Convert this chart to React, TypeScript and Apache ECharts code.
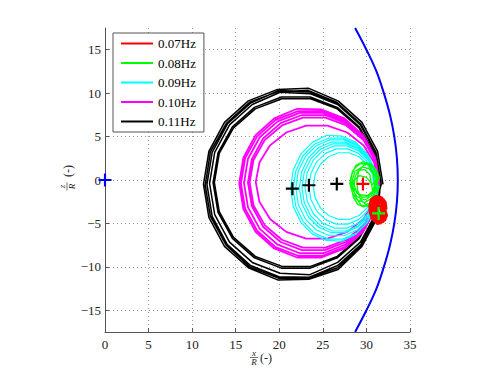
import React, { useEffect, useRef } from "react";
import * as echarts from "echarts";

const FONT = "'Liberation Serif', 'Times New Roman', serif";

const xTicks = [0, 5, 10, 15, 20, 25, 30, 35];
const yTicks = [-15, -10, -5, 0, 5, 10, 15];
const legendNames = ["0.07Hz", "0.08Hz", "0.09Hz", "0.10Hz", "0.11Hz"];
const legendColors = ["#ff0000", "#00ff00", "#00ffff", "#ff00ff", "#000000"];

// blue boundary curve
const wallCurve = [
  [28.7, 17.5], [30.0, 15], [31.15, 12.5], [32.0, 10], [32.7, 7.5], [33.2, 5], [33.5, 2.5], [33.6, 0],
  [33.5, -2.5], [33.2, -5], [32.7, -7.5], [32.0, -10], [31.15, -12.5], [30.0, -15], [28.7, -17.5],
];

// 0.11Hz trajectory (black), successive laps
const path011 = [
  [31.9, -0.5], [31.28, 3.3], [29.49, 6.64], [26.75, 9.11], [23.39, 10.55], [19.81, 10.43], [16.45, 9.11], [13.71, 6.64], [11.92, 3.3],
  [11.3, -0.5], [11.92, -4.3], [13.71, -7.64], [16.45, -10.11], [19.81, -11.5], [23.39, -11.43], [26.75, -10.3], [29.49, -7.64], [31.28, -4.3],
  [31.6, -0.4], [31.01, 3.19], [29.31, 6.35], [26.7, 8.69], [23.51, 9.94], [20.09, 10.1], [16.9, 8.69], [14.29, 6.35], [12.59, 3.19],
  [12.0, -0.4], [12.59, -3.99], [14.29, -7.15], [16.9, -9.49], [20.09, -10.74], [23.51, -10.9], [26.7, -9.49], [29.31, -7.15], [31.01, -3.99],
  [31.4, -0.3], [30.83, 3.12], [29.18, 6.13], [26.65, 8.36], [23.55, 9.55], [20.25, 9.55], [17.15, 8.36], [14.62, 6.13], [12.97, 3.12],
  [12.4, -0.3], [12.97, -3.72], [14.62, -6.73], [17.15, -8.96], [20.25, -10.15], [23.55, -10.15], [26.65, -8.96], [29.18, -6.73], [30.83, -3.72],
  [31.7, -0.5], [31.1, 3.19], [29.36, 6.44], [26.7, 8.85], [23.44, 10.14], [19.96, 10.3], [16.7, 8.85], [14.04, 6.44], [12.3, 3.19],
  [11.7, -0.5], [12.3, -4.19], [14.04, -7.44], [16.7, -9.85], [19.96, -11.14], [23.44, -11.2], [26.7, -9.85], [29.36, -7.44], [31.1, -4.19],
  [31.35, -0.3], [30.79, 3.05], [29.15, 6.0], [26.65, 8.19], [23.59, 9.35], [20.31, 9.35], [17.25, 8.19], [14.75, 6.0], [13.11, 3.05],
  [12.55, -0.3], [13.11, -3.65], [14.75, -6.6], [17.25, -8.79], [20.31, -9.95], [23.59, -9.95], [26.65, -8.79], [29.15, -6.6], [30.79, -3.65],
  [31.5, -0.4], [30.95, 3.25], [29.25, 6.5], [26.6, 8.95], [23.3, 10.3], [19.9, 10.2], [16.6, 8.95], [13.9, 6.5], [12.1, 3.25],
  [11.5, -0.6], [12.1, -4.2], [13.9, -7.5], [16.6, -10.0], [19.9, -11.3], [23.3, -11.3], [26.7, -10.1], [29.4, -7.5], [31.2, -4.2],
  [31.6, -0.5],
];

// 0.10Hz trajectory (magenta)
const path010 = [
  [31.5, -0.4], [31.02, 2.56], [29.62, 5.16], [27.48, 7.09], [24.85, 8.12], [22.05, 8.2], [19.42, 7.09], [17.28, 5.16], [15.88, 2.56],
  [15.4, -0.4], [15.88, -3.36], [17.28, -5.96], [19.42, -7.89], [22.05, -8.92], [24.85, -8.92], [27.48, -7.89], [29.62, -5.96], [31.02, -3.36],
  [31.45, -0.35], [30.99, 2.45], [29.64, 4.92], [27.58, 6.75], [25.05, 7.73], [22.35, 7.73], [19.82, 6.75], [17.76, 4.92], [16.41, 2.45],
  [15.95, -0.35], [16.41, -3.15], [17.76, -5.62], [19.82, -7.45], [22.35, -8.43], [25.05, -8.43], [27.58, -7.45], [29.64, -5.62], [30.99, -3.15],
  [31.4, -0.3], [30.96, 2.3], [29.67, 4.59], [27.7, 6.28], [25.29, 7.19], [22.71, 7.19], [20.3, 6.28], [18.33, 4.59], [17.04, 2.3],
  [16.6, -0.3], [17.04, -2.9], [18.33, -5.19], [20.3, -6.88], [22.71, -7.79], [25.29, -7.79], [27.7, -6.88], [29.67, -5.19], [30.96, -2.9],
  [31.5, -0.4], [31.02, 2.49], [29.64, 5.03], [27.53, 6.92], [24.93, 7.92], [22.17, 7.92], [19.57, 6.92], [17.46, 5.03], [16.08, 2.49],
  [15.6, -0.4], [16.08, -3.29], [17.46, -5.83], [19.57, -7.72], [22.17, -8.72], [24.93, -8.72], [27.53, -7.72], [29.64, -5.83], [31.02, -3.29],
  [31.3, -0.25], [30.88, 2.01], [29.66, 3.99], [27.8, 5.47], [25.52, 6.25], [23.08, 6.25], [20.8, 5.47], [18.94, 3.99], [17.72, 2.01],
  [17.3, -0.25], [17.72, -2.51], [18.94, -4.49], [20.8, -5.97], [23.08, -6.75], [25.52, -6.75], [27.8, -5.97], [29.66, -4.49], [30.88, -2.51],
  [31.4, -0.3], [30.95, 2.4], [29.65, 4.78], [27.65, 6.54], [25.21, 7.48], [22.59, 7.48], [20.15, 6.54], [18.15, 4.78], [16.85, 2.4],
  [16.4, -0.3], [16.85, -3.0], [18.15, -5.38], [20.15, -7.14], [22.59, -8.08], [25.21, -8.08], [27.65, -7.14], [29.65, -5.38], [30.95, -3.0],
  [31.4, -0.3],
];

// 0.09Hz trajectory (cyan)
const path009 = [
  [31.3, -0.95], [31.0, 1.14], [30.13, 2.97], [28.8, 4.33], [27.17, 5.06], [25.43, 5.15], [23.8, 4.33], [22.47, 2.97], [21.6, 1.14],
  [21.3, -0.95], [21.6, -3.04], [22.47, -4.87], [23.8, -6.23], [25.43, -6.96], [27.17, -7.05], [28.8, -6.23], [30.13, -4.87], [31.0, -3.04],
  [31.3, -0.9], [31.02, 1.02], [30.2, 2.7], [28.95, 3.95], [27.42, 4.62], [25.78, 4.62], [24.25, 3.95], [23.0, 2.7], [22.18, 1.02],
  [21.9, -0.9], [22.18, -2.82], [23.0, -4.5], [24.25, -5.75], [25.78, -6.42], [27.42, -6.42], [28.95, -5.75], [30.2, -4.5], [31.02, -2.82],
  [31.2, -0.85], [30.94, 0.89], [30.19, 2.43], [29.05, 3.57], [27.65, 4.17], [26.15, 4.17], [24.75, 3.57], [23.61, 2.43], [22.86, 0.89],
  [22.6, -0.85], [22.86, -2.59], [23.61, -4.13], [24.75, -5.27], [26.15, -5.87], [27.65, -5.87], [29.05, -5.27], [30.19, -4.13], [30.94, -2.59],
  [31.3, -1.0], [31.01, 1.02], [30.17, 2.79], [28.88, 4.11], [27.29, 4.81], [25.61, 4.81], [24.02, 4.11], [22.73, 2.79], [21.89, 1.02],
  [21.6, -1.0], [21.89, -3.02], [22.73, -4.79], [24.02, -6.11], [25.61, -6.81], [27.29, -6.81], [28.88, -6.11], [30.17, -4.79], [31.01, -3.02],
  [31.0, -0.75], [30.77, 0.75], [30.11, 2.08], [29.1, 3.06], [27.86, 3.58], [26.54, 3.58], [25.3, 3.06], [24.29, 2.08], [23.63, 0.75],
  [23.4, -0.75], [23.63, -2.25], [24.29, -3.58], [25.3, -4.56], [26.54, -5.08], [27.86, -5.08], [29.1, -4.56], [30.11, -3.58], [30.77, -2.25],
  [31.2, -0.85], [30.93, 0.96], [30.16, 2.56], [28.98, 3.74], [27.52, 4.37], [25.98, 4.37], [24.52, 3.74], [23.34, 2.56], [22.57, 0.96],
  [22.3, -0.85], [22.57, -2.66], [23.34, -4.26], [24.52, -5.44], [25.98, -6.07], [27.52, -6.07], [28.98, -5.44], [30.16, -4.26], [30.93, -2.66],
  [30.9, -0.7], [30.69, 0.63], [30.08, 1.81], [29.15, 2.68], [28.01, 3.14], [26.79, 3.14], [25.65, 2.68], [24.72, 1.81], [24.11, 0.63],
  [23.9, -0.7], [24.11, -2.03], [24.72, -3.21], [25.65, -4.08], [26.79, -4.54], [28.01, -4.54], [29.15, -4.08], [30.08, -3.21], [30.69, -2.03],
  [31.15, -0.8], [30.9, 0.84], [30.19, 2.29], [29.1, 3.36], [27.76, 3.93], [26.34, 3.93], [24.96, 3.36], [23.91, 2.29], [23.2, 0.84],
  [22.95, -0.8], [23.2, -2.44], [23.91, -3.89], [24.96, -4.96], [26.34, -5.53], [27.76, -5.53], [29.1, -4.96], [30.19, -3.89], [30.9, -2.44],
  [31.15, -0.8],
];

// 0.08Hz trajectory (green)
const path008 = [
  [31.3, -0.3], [31.2, 0.9], [30.6, 1.7], [29.6, 2.1], [28.8, 1.7], [28.3, 0.7], [28.1, -0.4], [28.4, -1.5], [28.9, -2.3], [29.8, -2.6], [30.6, -2.1], [31.1, -1.2],
  [31.4, -0.8], [31.0, 0.5], [30.3, 1.3], [29.5, 1.5], [28.7, 1.0], [28.4, 0.1], [28.5, -1.0], [28.8, -2.0], [29.4, -2.9], [30.2, -3.0], [30.9, -2.5], [31.3, -1.6],
  [30.9, -0.2], [30.8, 0.9], [30.2, 1.8], [29.3, 1.9], [28.6, 1.3], [28.2, 0.3], [28.3, -0.9], [28.9, -1.9], [29.8, -2.3], [30.5, -1.9], [30.9, -1.2], [31.2, -0.4],
  [31.5, 0.2], [31.1, 1.2], [30.4, 1.9], [29.7, 1.7], [29.1, 1.0], [28.9, -0.1], [29.0, -1.2], [29.3, -2.2], [29.9, -2.8], [30.6, -2.6], [31.2, -1.7], [31.5, -0.7],
  [30.7, -1.4], [30.6, -0.4], [30.0, 0.3], [29.2, 0.5], [28.6, 0.0], [28.3, -1.0], [28.5, -2.0], [29.0, -2.8], [29.7, -3.1], [30.4, -2.8], [30.8, -2.1], [31.0, -1.2],
  [31.2, 0.3], [30.8, 1.4], [30.0, 2.0], [29.0, 1.8], [28.4, 1.0], [28.2, -0.1], [28.6, -1.1], [29.3, -1.7], [30.1, -1.8], [30.7, -1.3], [31.0, -0.5], [31.3, 0.2],
  [30.6, -0.6], [30.4, 0.6], [29.8, 1.2], [29.1, 1.1], [28.7, 0.4], [28.6, -0.6], [28.9, -1.5], [29.5, -2.0], [30.2, -1.9], [30.7, -1.4], [31.0, -0.8],
];

// 0.07Hz trajectory (red)
const path007 = [
  [32.2, -3.4], [32.1, -2.6], [31.7, -2.1], [31.1, -1.95], [30.6, -2.3], [30.45, -3.0], [30.5, -3.8], [30.8, -4.5], [31.3, -4.95], [31.9, -4.7], [32.25, -4.1],
  [32.0, -3.3], [31.8, -2.6], [31.2, -2.4], [30.8, -2.8], [30.75, -3.6], [31.0, -4.3], [31.5, -4.5], [31.95, -4.0],
  [31.7, -3.2], [31.3, -2.9], [31.1, -3.4], [31.3, -4.0], [31.7, -3.9], [32.1, -3.5], [32.15, -2.9], [31.9, -2.3], [31.4, -2.1],
  [30.9, -2.2], [30.6, -2.7], [30.6, -3.4], [30.7, -4.1], [31.1, -4.7], [31.6, -4.9], [32.1, -4.5], [32.2, -3.8],
];

// centre markers
const blackCenters = [[21.5, -1.0], [23.4, -0.6], [26.6, -0.45]];
const redCenters = [[29.6, -0.45]];
const greenCenters = [[31.4, -3.85]];
const originMarker = [[0, 0]];

const PLUS = "path://M5,0H7V5H12V7H7V12H5V7H0V5H5Z";

function fracLabel(num: string, x: number, y: number, rotation: number, fracX: number, parenX: number) {
  return {
    type: "group",
    x,
    y,
    rotation,
    silent: true,
    children: [
      { type: "text", x: fracX, y: -4.6, style: { text: num, font: `italic 9px ${FONT}`, fill: "#222", align: "center", verticalAlign: "middle" } },
      { type: "line", shape: { x1: fracX - 4, y1: 0, x2: fracX + 4, y2: 0 }, style: { stroke: "#333", lineWidth: 0.7 } },
      { type: "text", x: fracX, y: 4.8, style: { text: "R", font: `italic 9px ${FONT}`, fill: "#222", align: "center", verticalAlign: "middle" } },
      { type: "text", x: parenX, y: 0.5, style: { text: "(-)", font: `12px ${FONT}`, fill: "#222", align: "center", verticalAlign: "middle" } },
    ],
  };
}

export default function App() {
  const ref = useRef<HTMLDivElement>(null);
  useEffect(() => {
    if (!ref.current) return;
    const chart = echarts.init(ref.current, null, { renderer: "svg" });
    const lineSeries = (name: string, data: number[][], color: string, width: number, smooth: number | boolean) => ({
      type: "line",
      name,
      data,
      color,
      symbol: "none",
      showSymbol: false,
      smooth,
      lineStyle: { color, width, join: "round" },
      emphasis: { disabled: true },
    });
    const marker = (data: number[][], color: string) => ({
      type: "scatter",
      name: "marker",
      data,
      symbol: PLUS,
      symbolSize: 13,
      clip: false,
      itemStyle: { color, opacity: 1 },
      emphasis: { disabled: true },
      z: 5,
    });
    const axisLabelStyle = { color: "#222", fontFamily: FONT, fontSize: 13 };
    const split = { show: true, lineStyle: { color: "#9a9a9a", type: [1, 3], width: 1 } };
    chart.setOption({
      animation: false,
      backgroundColor: "#ffffff",
      grid: { left: 105, right: 88, top: 28, bottom: 43, containLabel: false },
      xAxis: {
        type: "value",
        min: 0,
        max: 35,
        interval: 5,
        axisLine: { show: true, onZero: false, lineStyle: { color: "#555", width: 1 } },
        axisTick: { show: true, inside: true, length: 4, lineStyle: { color: "#555" } },
        axisLabel: { ...axisLabelStyle, margin: 6, customValues: xTicks },
        splitLine: split,
      },
      yAxis: {
        type: "value",
        min: -17.5,
        max: 17.5,
        axisLine: { show: true, onZero: false, lineStyle: { color: "#555", width: 1 } },
        axisTick: { show: true, inside: true, length: 4, lineStyle: { color: "#555" }, customValues: yTicks },
        axisLabel: {
          ...axisLabelStyle,
          margin: 4,
          customValues: yTicks,
          formatter: (v: number) => String(v).replace("-", "\u2212"),
        },
        splitLine: split,
      },
      legend: {
        data: legendNames,
        orient: "vertical",
        left: 113,
        top: 33,
        itemWidth: 32,
        itemHeight: 14,
        itemGap: 6.5,
        padding: [4, 8, 4, 7],
        borderColor: "#555",
        borderWidth: 1,
        borderRadius: 0,
        backgroundColor: "#ffffff",
        textStyle: { fontFamily: FONT, fontSize: 13, color: "#000" },
        lineStyle: { width: 2 },
        itemStyle: { opacity: 0, borderWidth: 0 },
        selectedMode: false,
      },
      graphic: [
        fracLabel("x", 259, 357.5, 0, -5, 7),
        fracLabel("z", 67, 179, Math.PI / 2, -7.5, 8),
      ],
      series: [
        lineSeries("wall", wallCurve, "#0000ff", 2, 0.4),
        lineSeries(legendNames[4], path011, legendColors[4], 1.5, false),
        lineSeries(legendNames[3], path010, legendColors[3], 1.8, false),
        lineSeries(legendNames[2], path009, legendColors[2], 1.2, false),
        lineSeries(legendNames[1], path008, legendColors[1], 1.3, false),
        lineSeries(legendNames[0], path007, legendColors[0], 4, false),
        marker(blackCenters, "#000000"),
        marker(redCenters, "#ff0000"),
        marker(greenCenters, "#00ff00"),
        marker(originMarker, "#0000ff"),
      ],
    });
    return () => chart.dispose();
  }, []);
  return <div ref={ref} style={{ position: "fixed", left: 0, top: 0, width: 498, height: 375, background: "#fff" }} />;
}
